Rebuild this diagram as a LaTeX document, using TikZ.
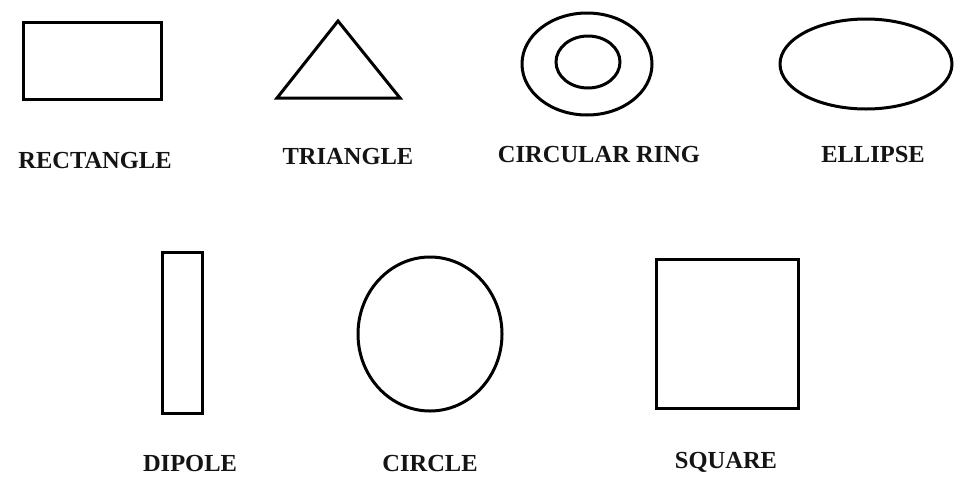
\documentclass[tikz,border=0pt]{standalone}
\usepackage{fontspec}
\setmainfont{Liberation Serif}
\usetikzlibrary{shapes.geometric}
\begin{document}
\begin{tikzpicture}[x=1pt,y=-1pt,
  shapeline/.style={draw=black,line width=3pt,inner sep=0pt,outer sep=0pt},
  lbl/.style={font=\fontsize{24.5}{26}\selectfont\bfseries,text=black!92,inner sep=0pt,anchor=center}]
\useasboundingbox (0,0) rectangle (955,477);
\fill[white] (0,0) rectangle (955,477);
% top row
\node[shapeline,rectangle,minimum width=138pt,minimum height=77pt] (rect) at (92,60.5) {};
\draw[line width=3pt,line join=miter] (338,21) coordinate (triA) -- (400,98) coordinate (triB) -- (277,98) coordinate (triC) -- cycle;
\node[shapeline,ellipse,minimum width=130pt,minimum height=102pt] (ringout) at (587,64) {};
\node[shapeline,ellipse,minimum width=64pt,minimum height=52pt] (ringin) at (588,62) {};
\node[shapeline,ellipse,minimum width=172pt,minimum height=90pt] (ell) at (866,64) {};
\node[lbl] (tRect) at (95,161) {RECTANGLE};
\node[lbl] (tTri) at (348,157) {TRIANGLE};
\node[lbl] (tRing) at (599,155) {CIRCULAR RING};
\node[lbl] (tEll) at (873,155) {ELLIPSE};
% bottom row
\node[shapeline,rectangle,minimum width=40pt,minimum height=161pt] (dip) at (182,332.5) {};
\node[shapeline,ellipse,minimum width=144pt,minimum height=154pt] (circ) at (430,334) {};
\node[shapeline,rectangle,minimum width=142pt,minimum height=149pt] (sq) at (727,333.5) {};
\node[lbl] (tDip) at (190,463) {DIPOLE};
\node[lbl] (tCirc) at (430,463) {CIRCLE};
\node[lbl] (tSq) at (726,462) {SQUARE};
\end{tikzpicture}
\end{document}
